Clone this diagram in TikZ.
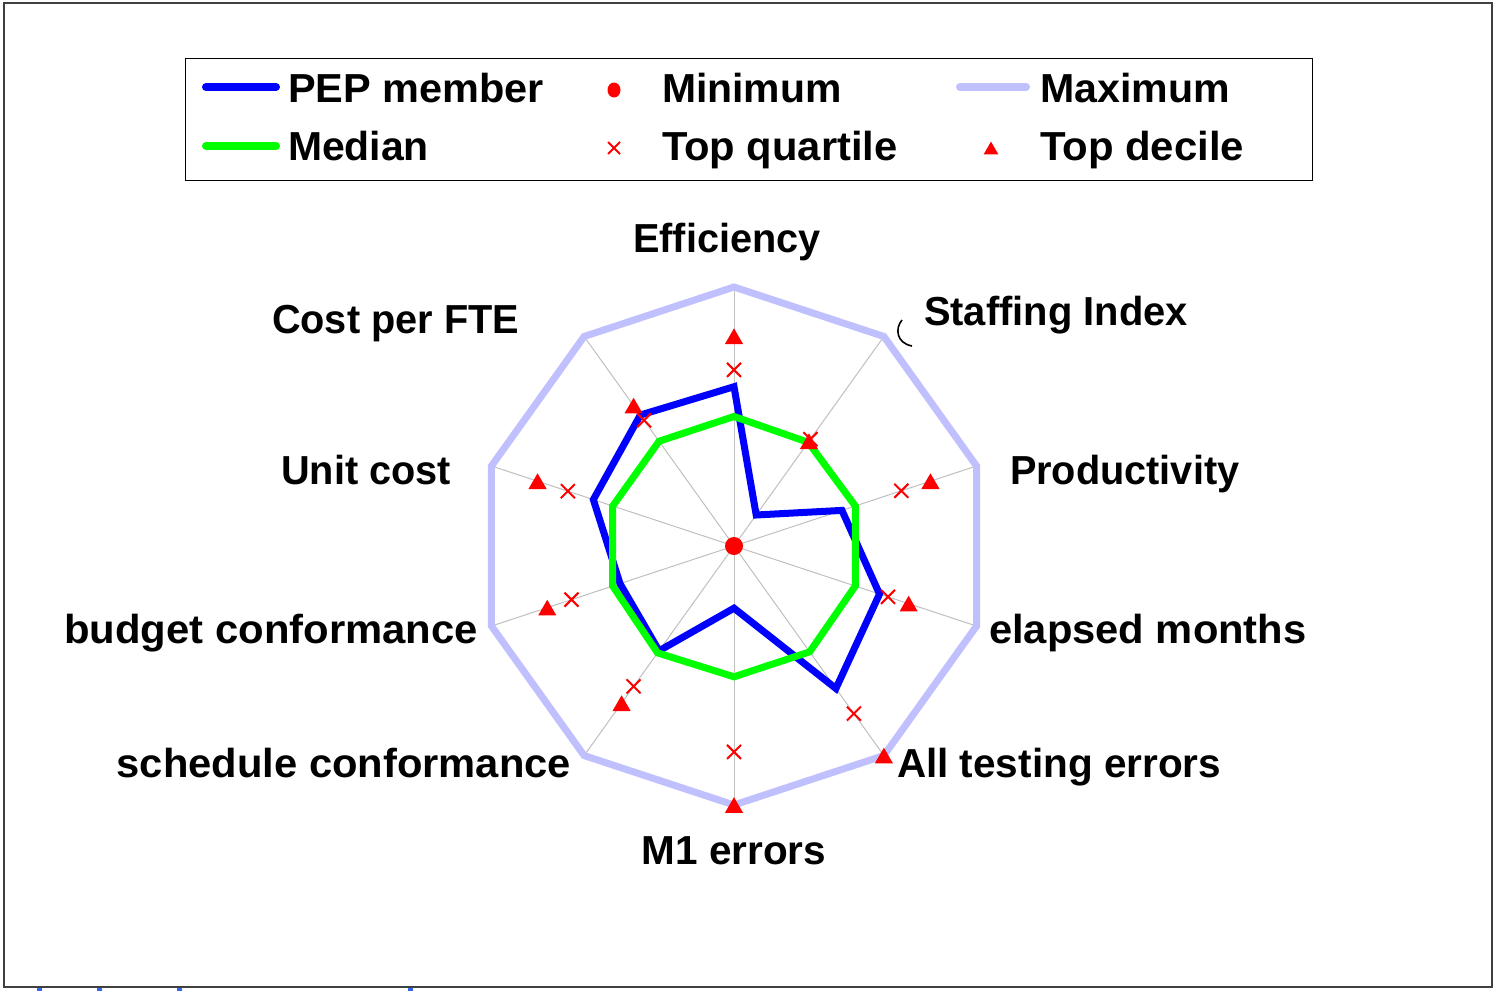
\documentclass[tikz,border=0pt]{standalone}
\usepackage{fontspec}
\usepackage{graphicx}
\setmainfont{Liberation Sans}
\usetikzlibrary{shapes.geometric,shapes.misc}
\definecolor{pepblue}{HTML}{0000FF}
\definecolor{medgreen}{HTML}{00FF00}
\definecolor{maxlav}{HTML}{C0C0FF}
\definecolor{mkred}{HTML}{FF0000}
\definecolor{spokegray}{HTML}{C0C0C0}
\definecolor{framegray}{HTML}{404040}
\definecolor{tickblue}{HTML}{3366EE}
\newcommand{\hs}[2]{\scalebox{#1}[1]{#2}}
\begin{document}
\begin{tikzpicture}[x=1pt,y=-1pt,
  lbl/.style={font=\fontsize{40.5}{48}\selectfont\bfseries, inner sep=0pt, outer sep=0pt},
  pepline/.style={draw=pepblue, line width=7pt},
  medline/.style={draw=medgreen, line width=7pt},
  maxline/.style={draw=maxlav, line width=7pt},
  spoke/.style={draw=spokegray, line width=1pt},
  tri/.style={regular polygon, regular polygon sides=3, fill=mkred, minimum size=21pt, inner sep=0pt, outer sep=0pt, yshift=-2.6pt},
  xmark/.style={cross out, draw=mkred, line width=2pt, minimum size=14pt, inner sep=0pt, outer sep=0pt},
  dotmark/.style={circle, fill=mkred, minimum size=18pt, inner sep=0pt, outer sep=0pt},
]
\useasboundingbox (0,0) rectangle (1495,991);
\fill[white] (0,0) rectangle (1495,991);
% outer frame
\draw[framegray, line width=2pt] (3.5,2.5) rectangle (1492,987);
\fill[tickblue] (37,988) rectangle (42,991);
\fill[tickblue] (97,988) rectangle (102,991);
\fill[tickblue] (177,988) rectangle (182,991);
\fill[tickblue] (408,988) rectangle (413,991);

% radar coordinates
\coordinate (c) at (734,546);
\foreach \k/\p/\m/\q/\d in {0/.615/.50/.68/.81, 1/.148/.495/.51/.50, 2/.445/.50/.69/.81,
   3/.60/.50/.635/.72, 4/.68/.505/.80/1.0, 5/.24/.505/.795/1.0, 6/.50/.51/.67/.75,
   7/.47/.50/.67/.77, 8/.58/.50/.685/.81, 9/.625/.50/.60/.67}{
  \coordinate (ax\k) at ({734+255*cos(-90+36*\k)},{546+259*sin(-90+36*\k)});
  \coordinate (pep\k) at ({734+\p*255*cos(-90+36*\k)},{546+\p*259*sin(-90+36*\k)});
  \coordinate (med\k) at ({734+\m*255*cos(-90+36*\k)},{546+\m*259*sin(-90+36*\k)});
  \coordinate (qp\k) at ({734+\q*255*cos(-90+36*\k)},{546+\q*259*sin(-90+36*\k)});
  \coordinate (dp\k) at ({734+\d*255*cos(-90+36*\k)},{546+\d*259*sin(-90+36*\k)});
}
% spokes
\foreach \k in {0,...,9}{ \draw[spoke] (c) -- (ax\k); }
% clipped glyph near the Staffing Index vertex
\draw[black, line width=1.6pt] (902,320) .. controls (895,328) and (896,343) .. (912,346);
% maximum
\draw[maxline] (ax0) -- (ax1) -- (ax2) -- (ax3) -- (ax4) -- (ax5) -- (ax6) -- (ax7) -- (ax8) -- (ax9) -- cycle;
% PEP member
\draw[pepline] (pep0) -- (pep1) -- (pep2) -- (pep3) -- (pep4) -- (pep5) -- (pep6) -- (pep7) -- (pep8) -- (pep9) -- cycle;
% median
\draw[medline] (med0) -- (med1) -- (med2) -- (med3) -- (med4) -- (med5) -- (med6) -- (med7) -- (med8) -- (med9) -- cycle;
% markers
\foreach \k in {0,...,9}{
  \node[xmark] (q\k) at (qp\k) {};
  \node[tri] (d\k) at (dp\k) {};
}
\node[dotmark] (mindot) at (c) {};

% axis labels
\node[lbl, anchor=base] (lEff) at (727,252) {\hs{0.98}{Efficiency}};
\node[lbl, anchor=base west] (lStaff) at (924,325) {\hs{0.985}{Staffing Index}};
\node[lbl, anchor=base west] (lProd) at (1010,484) {\hs{0.98}{Productivity}};
\node[lbl, anchor=base west] (lElap) at (989,643) {\hs{1.03}{elapsed months}};
\node[lbl, anchor=base west] (lTest) at (897,777) {All testing errors};
\node[lbl, anchor=base] (lM1) at (734,864) {M1 errors};
\node[lbl, anchor=base east] (lSched) at (571,777) {\hs{1.03}{schedule conformance}};
\node[lbl, anchor=base east] (lBudg) at (478,643) {\hs{1.033}{budget conformance}};
\node[lbl, anchor=base east] (lUnit) at (451,484) {\hs{0.98}{Unit cost}};
\node[lbl, anchor=base east] (lCost) at (519,333) {\hs{0.98}{Cost per FTE}};

% legend
\node[draw=black, line width=1pt, minimum width=1127pt, minimum height=122pt, inner sep=0pt, anchor=north west] (legend) at (184.5,57.5) {};
\coordinate (lg1a) at (206,87); \coordinate (lg1b) at (276,87);
\coordinate (lg2a) at (206,146); \coordinate (lg2b) at (276,146);
\coordinate (lg3a) at (960,87); \coordinate (lg3b) at (1026,87);
\draw[pepline, line width=8pt, line cap=round] (lg1a) -- (lg1b);
\draw[medline, line width=8pt, line cap=round] (lg2a) -- (lg2b);
\draw[maxline, line width=8pt, line cap=round] (lg3a) -- (lg3b);
\node[ellipse, fill=mkred, minimum width=13pt, minimum height=15pt, inner sep=0pt] (lgmin) at (614,90) {};
\node[xmark, minimum size=12pt] (lgq) at (614,148) {};
\node[tri, minimum size=17pt, yshift=0.5pt] (lgd) at (991,148) {};
\node[lbl, anchor=base west] (tPep) at (288,102) {\hs{1.024}{PEP member}};
\node[lbl, anchor=base west] (tMed) at (288,160) {\hs{1.01}{Median}};
\node[lbl, anchor=base west] (tMin) at (662,102) {\hs{1.01}{Minimum}};
\node[lbl, anchor=base west] (tQ) at (662,160) {\hs{1.03}{Top quartile}};
\node[lbl, anchor=base west] (tMax) at (1040,102) {\hs{1.016}{Maximum}};
\node[lbl, anchor=base west] (tD) at (1040,160) {\hs{1.035}{Top decile}};
\end{tikzpicture}
\end{document}
